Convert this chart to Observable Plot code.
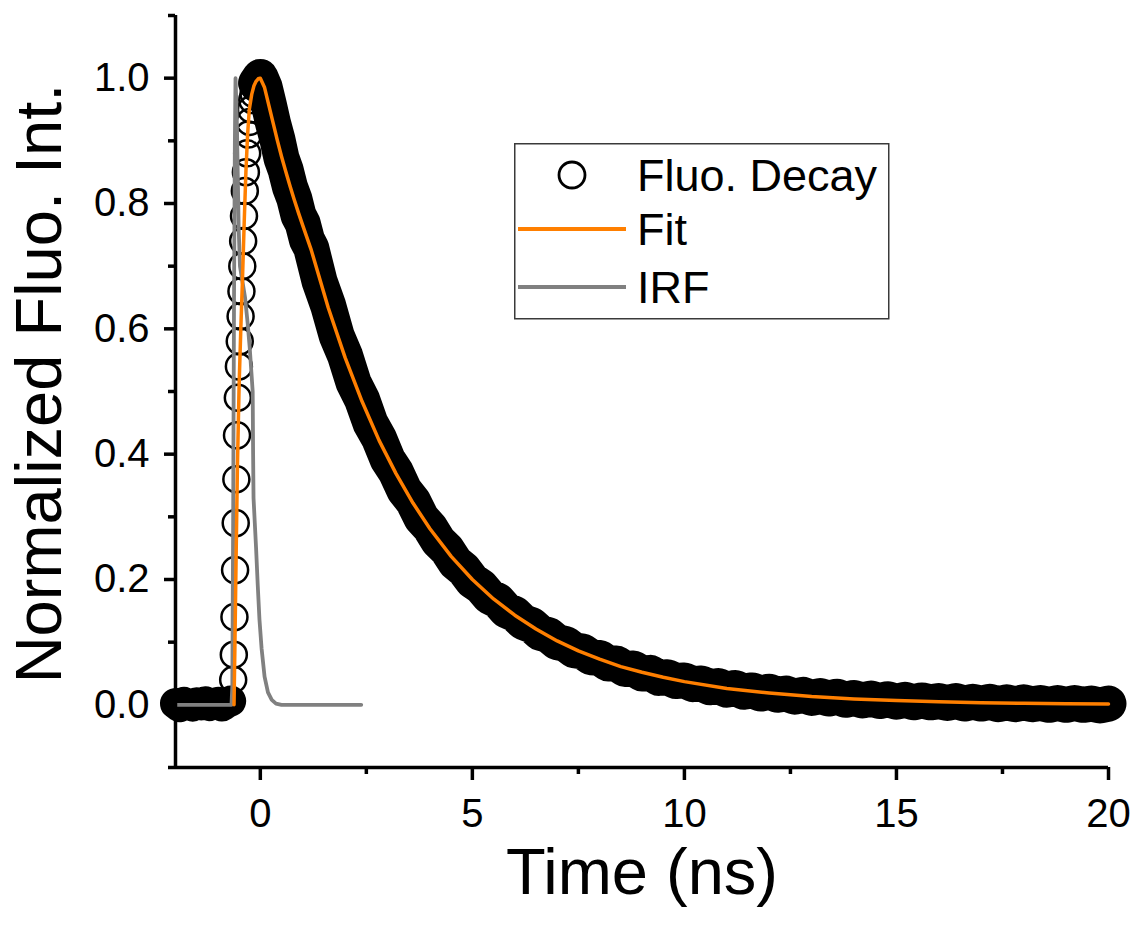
<!DOCTYPE html>
<html><head><meta charset="utf-8">
<script src="https://cdn.jsdelivr.net/npm/d3@7"></script>
<script src="https://cdn.jsdelivr.net/npm/@observablehq/plot@0.6"></script>
<style>
body{margin:0;background:#fff;}
#wrap{position:relative;width:1137px;height:931px;font-family:"Liberation Sans",Arial,sans-serif;}
#legend{position:absolute;left:514px;top:143px;}
</style></head><body><div id="wrap"></div>
<script>
// Series names (legend)
const seriesNames = ["Fluo. Decay", "Fit", "IRF"];
const seriesColors = ["#000000", "#FF7F00", "#808080"];

// Axis ticks
const xMajor = [0, 5, 10, 15, 20];
const xMinor = [2.5, 7.5, 12.5, 17.5];
const yMajor = [0.0, 0.2, 0.4, 0.6, 0.8, 1.0];
const yMinor = [-0.1, 0.1, 0.3, 0.5, 0.7, 0.9, 1.1];
const xTitle = "Time (ns)";
const yTitle = "Normalized Fluo. Int.";

// Fluorescence decay data: pre-pulse baseline
const baseT = [-2.0,-1.9,-1.8,-1.7,-1.6,-1.5,-1.4,-1.3,-1.2,-1.1,-1.0,-0.9,-0.8,-0.7];
const baseY = [0.002,-0.003,0.004,0.001,-0.002,0.003,0.0,0.005,-0.001,0.002,0.004,-0.002,0.003,0.006];
// rising edge
const riseT = [-0.64,-0.625,-0.61,-0.595,-0.58,-0.565,-0.55,-0.53,-0.505,-0.485,-0.465,-0.445,-0.425,-0.405,-0.385,-0.365,-0.34,-0.31,-0.28,-0.25,-0.22,-0.19,-0.16,-0.13];
const riseY = [0.04,0.08,0.14,0.215,0.29,0.36,0.43,0.49,0.54,0.58,0.62,0.66,0.70,0.74,0.78,0.82,0.85,0.88,0.91,0.93,0.95,0.965,0.975,0.985];
// decay
const decayT = [-0.1,0,0.1,0.2,0.3,0.4,0.5,0.6,0.7,0.8,0.9,1.0,1.1,1.2,1.4,1.6,1.8,2.0,2.2,2.4,2.6,2.8,3.0,3.2,3.4,3.6,3.8,4.0,4.2,4.4,4.6,4.8,5.0,5.2,5.4,5.6,5.8,6.0,6.2,6.4,6.6,6.8,7.0,7.2,7.4,7.6,7.8,8.0,8.2,8.4,8.6,8.8,9.0,9.2,9.4,9.6,9.8,10.0,10.2,10.4,10.6,10.8,11.0,11.2,11.4,11.6,11.8,12.0,12.2,12.4,12.6,12.8,13.0,13.2,13.4,13.6,13.8,14.0,14.2,14.4,14.6,14.8,15.0,15.2,15.4,15.6,15.8,16.0,16.2,16.4,16.6,16.8,17.0,17.2,17.4,17.6,17.8,18.0,18.2,18.4,18.6,18.8,19.0,19.2,19.4,19.6,19.8,20.0];
const decayY = [0.992,1.002,0.986,0.958,0.928,0.903,0.872,0.853,0.826,0.808,0.781,0.768,0.742,0.729,0.675,0.637,0.589,0.557,0.514,0.487,0.449,0.425,0.392,0.371,0.342,0.325,0.298,0.283,0.261,0.248,0.227,0.216,0.198,0.189,0.173,0.166,0.151,0.145,0.132,0.127,0.115,0.111,0.100,0.097,0.087,0.085,0.076,0.075,0.066,0.066,0.057,0.058,0.050,0.051,0.043,0.044,0.038,0.039,0.033,0.034,0.028,0.030,0.024,0.027,0.021,0.023,0.018,0.021,0.016,0.018,0.013,0.016,0.011,0.014,0.010,0.013,0.008,0.011,0.007,0.010,0.006,0.009,0.005,0.008,0.004,0.007,0.004,0.006,0.003,0.006,0.002,0.005,0.002,0.005,0.001,0.004,0.001,0.004,0.001,0.003,0.000,0.003,0.000,0.003,0.000,0.002,-0.001,0.002];

// Fit curve
const fitT = [-0.62,-0.60,-0.57,-0.54,-0.50,-0.46,-0.42,-0.38,-0.34,-0.30,-0.26,-0.20,-0.15,-0.10,-0.05,0,0.1,0.2,0.3,0.4,0.5,0.6,0.7,0.8,0.9,1.0,1.2,1.6,2.0,2.4,2.8,3.2,3.6,4.0,4.5,5.0,5.5,6.0,6.5,7.0,7.5,8.0,8.5,9.0,9.5,10,11,12,13,14,15,16,17,18,19,20];
const fitY = [0,0.09,0.24,0.38,0.51,0.60,0.68,0.77,0.85,0.91,0.95,0.975,0.988,0.995,0.999,1.0,0.985,0.957,0.929,0.901,0.875,0.851,0.828,0.806,0.785,0.765,0.726,0.634,0.554,0.484,0.422,0.369,0.322,0.281,0.237,0.200,0.169,0.143,0.121,0.102,0.086,0.073,0.061,0.052,0.044,0.037,0.026,0.019,0.0134,0.0095,0.0068,0.0048,0.0034,0.0024,0.0017,0.0012];

// Instrument response function
const irfT = [-2.0,-0.68,-0.66,-0.64,-0.62,-0.60,-0.585,-0.57,-0.55,-0.53,-0.51,-0.48,-0.42,-0.36,-0.30,-0.25,-0.21,-0.18,-0.17,-0.16,-0.13,-0.10,-0.06,-0.02,0.03,0.1,0.18,0.27,0.37,0.5,1.0,2.38];
const irfY = [0,0,0.03,0.3,0.65,0.9,1.0,0.97,0.92,0.84,0.76,0.70,0.675,0.65,0.61,0.57,0.53,0.50,0.40,0.33,0.29,0.25,0.19,0.136,0.09,0.045,0.02,0.008,0.002,0,0,0];

const zip = (T, Y, seg) => T.map((t, i) => ({t, y: Y[i], seg}));
const basePts = zip(baseT, baseY, "base");
const risePts = zip(riseT, riseY, "rise");
const decayPts = zip(decayT, decayY, "decay");
const fluo = [...basePts, ...risePts, ...decayPts];
const fit = zip(fitT, fitY, "fit");
const irf = zip(irfT, irfY, "irf");

const R = 13, SW = 2.5;
const font = "Liberation Sans, Arial, sans-serif";

const chart = Plot.plot({
  width: 1137, height: 931,
  marginLeft: 175, marginRight: 29, marginTop: 15, marginBottom: 164,
  x: {domain: [-2, 20]},
  y: {domain: [-0.1, 1.1]},
  style: {fontFamily: font, color: "#000", background: "#fff", overflow: "visible"},
  marks: [
    // dense, noisy overlapping circles form a solid band
    Plot.line(basePts, {x: "t", y: "y", stroke: seriesColors[0], strokeWidth: 31, strokeLinecap: "round", strokeLinejoin: "round"}),
    Plot.line(decayPts, {x: "t", y: "y", stroke: seriesColors[0], strokeWidth: 36, strokeLinecap: "round", strokeLinejoin: "round"}),
    Plot.dot(fluo, {x: "t", y: "y", r: R, stroke: seriesColors[0], strokeWidth: SW, fill: "none"}),
    Plot.line(irf, {x: "t", y: "y", stroke: seriesColors[2], strokeWidth: 3.8}),
    Plot.line(fit, {x: "t", y: "y", stroke: seriesColors[1], strokeWidth: 3.5}),
    Plot.ruleX([-2], {stroke: "#000", strokeWidth: 3.5}),
    Plot.ruleY([-0.1], {stroke: "#000", strokeWidth: 3.5}),
    Plot.axisY({ticks: yMajor, tickSize: 11, tickPadding: 15, fontSize: 40, tickFormat: d3.format(".1f"), strokeWidth: 3.5, label: null}),
    Plot.axisY({ticks: yMinor, tickSize: 7, tickFormat: () => "", strokeWidth: 3.5, label: null}),
    Plot.axisX({ticks: xMajor, tickSize: 13, tickPadding: 18, fontSize: 40, tickFormat: d3.format("d"), strokeWidth: 3.5, label: null}),
    Plot.axisX({ticks: xMinor, tickSize: 7, tickFormat: () => "", strokeWidth: 3.5, label: null}),
    Plot.text([yTitle], {text: d => d, frameAnchor: "left", textAnchor: "middle", lineAnchor: "middle", rotate: -90, dx: -135, dy: -8, fontSize: 65, fill: "#000"}),
    Plot.text([xTitle], {text: d => d, frameAnchor: "bottom", textAnchor: "middle", lineAnchor: "middle", dy: 106, fontSize: 65, fill: "#000"})
  ]
});
const wrap = document.getElementById("wrap");
wrap.appendChild(chart);

// Legend
const lg = d3.select(wrap).append("svg").attr("id", "legend").attr("width", 376).attr("height", 177)
  .style("font-family", font);
lg.append("rect").attr("x", 0.75).attr("y", 0.75).attr("width", 374).attr("height", 175)
  .attr("fill", "#fff").attr("stroke", "#3a3a3a").attr("stroke-width", 1.5);
const rowY = [32, 86, 144];
seriesNames.forEach((name, i) => {
  if (i === 0) {
    lg.append("circle").attr("cx", 58).attr("cy", rowY[i]).attr("r", 13).attr("fill", "none")
      .attr("stroke", seriesColors[i]).attr("stroke-width", 2.8);
  } else {
    lg.append("line").attr("x1", 4).attr("x2", 112).attr("y1", rowY[i]).attr("y2", rowY[i])
      .attr("stroke", seriesColors[i]).attr("stroke-width", 4);
  }
  lg.append("text").attr("x", 123).attr("y", rowY[i] + 16).attr("font-size", 45).attr("fill", "#000").text(name);
});
</script>
</body></html>
